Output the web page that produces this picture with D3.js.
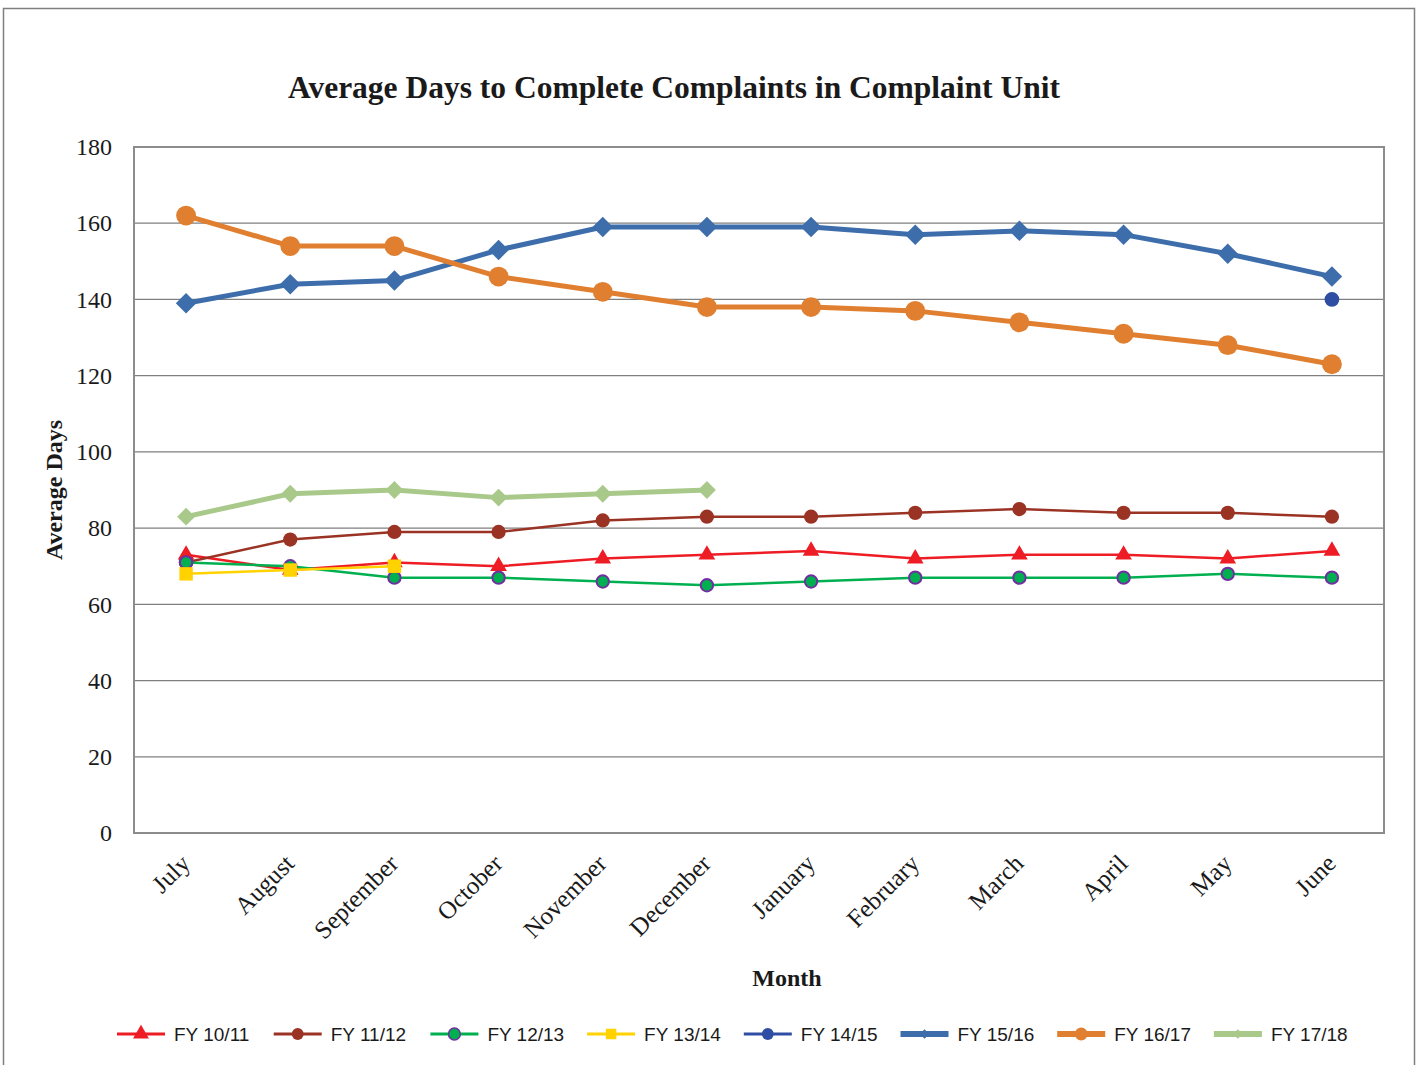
<!DOCTYPE html>
<html><head><meta charset="utf-8">
<script src="https://cdn.jsdelivr.net/npm/d3@7"></script>
<style>body{margin:0;background:#fff}</style>
</head><body>
<svg id="c" width="1417" height="1065"></svg>
<script>
const months = ["July","August","September","October","November","December","January","February","March","April","May","June"];
const yTicks = [0,20,40,60,80,100,120,140,160,180];
const fy1011 = [73,69,71,70,72,73,74,72,73,73,72,74];
const fy1112 = [71,77,79,79,82,83,83,84,85,84,84,83];
const fy1213 = [71,70,67,67,66,65,66,67,67,67,68,67];
const fy1314 = [68,69,70,null,null,null,null,null,null,null,null,null];
const fy1415 = [71,null,null,null,null,null,null,null,null,null,null,140];
const fy1516 = [139,144,145,153,159,159,159,157,158,157,152,146];
const fy1617 = [162,154,154,146,142,138,138,137,134,131,128,123];
const fy1718 = [83,89,90,88,89,90,null,null,null,null,null,null];
const seriesNames = ["FY 10/11","FY 11/12","FY 12/13","FY 13/14","FY 14/15","FY 15/16","FY 16/17","FY 17/18"];

const series = [
  {name:seriesNames[0], data:fy1011, color:"#ee1c25", w:2.5, marker:"triangle", ms:120, fill:"#ee1c25", stroke:"none", z:1},
  {name:seriesNames[1], data:fy1112, color:"#9a3324", w:2.5, marker:"circle", ms:160, fill:"#9a3324", stroke:"none", z:2},
  {name:seriesNames[2], data:fy1213, color:"#00b050", w:2.5, marker:"circle", ms:120, fill:"#00b050", stroke:"#7030a0", z:3},
  {name:seriesNames[3], data:fy1314, color:"#ffd200", w:2.5, marker:"square", ms:180, fill:"#ffd200", stroke:"none", z:4},
  {name:seriesNames[4], data:fy1415, color:"#2f4ea3", w:2.5, marker:"circle", ms:170, fill:"#2f4ea3", stroke:"none", z:0},
  {name:seriesNames[5], data:fy1516, color:"#3d6eab", w:5, marker:"diamond", ms:210, fill:"#3d6eab", stroke:"none", z:5},
  {name:seriesNames[6], data:fy1617, color:"#e07f30", w:5, marker:"circle", ms:310, fill:"#e07f30", stroke:"none", z:6},
  {name:seriesNames[7], data:fy1718, color:"#a9c98a", w:5, marker:"diamond", ms:160, fill:"#a9c98a", stroke:"none", z:7}
];
const symMap = {triangle:d3.symbolTriangle, circle:d3.symbolCircle, square:d3.symbolSquare, diamond:d3.symbolSquare};
const rot = m => m==="diamond" ? " rotate(45)" : "";

const svg = d3.select("#c");
const L=134, R=1384, T=147, B=833;

svg.append("rect").attr("x",3.5).attr("y",8.5).attr("width",1411).attr("height",1070)
  .attr("fill","none").attr("stroke","#7f7f7f").attr("stroke-width",1.5);

const x = d3.scalePoint().domain(months).range([L,R]).padding(0.5);
const y = d3.scaleLinear().domain([0,180]).range([B,T]);

svg.append("g").selectAll("line").data(yTicks.filter(d=>d>0&&d<180)).join("line")
  .attr("x1",L).attr("x2",R).attr("y1",d=>y(d)).attr("y2",d=>y(d))
  .attr("stroke","#7f7f7f").attr("stroke-width",1.2);

svg.append("rect").attr("x",L).attr("y",T).attr("width",R-L).attr("height",B-T)
  .attr("fill","none").attr("stroke","#8c8c8c").attr("stroke-width",2);

const yAxis = d3.axisLeft(y).tickValues(yTicks).tickSize(0).tickPadding(22);
const gy = svg.append("g").attr("transform",`translate(${L},0)`).call(yAxis);
gy.select(".domain").remove();
gy.selectAll("text").attr("font-family","Liberation Serif").attr("font-size",24).attr("fill","#1a1a1a");

const xAxis = d3.axisBottom(x).tickSize(0).tickPadding(0);
const gx = svg.append("g").attr("transform",`translate(0,${B})`).call(xAxis);
gx.select(".domain").remove();
gx.selectAll("text").attr("font-family","Liberation Serif").attr("font-size",25).attr("fill","#1a1a1a")
  .attr("text-anchor","end").attr("dy",0)
  .attr("transform","translate(5,32) rotate(-45)");

svg.append("text").attr("x",674).attr("y",98).attr("text-anchor","middle")
  .attr("font-family","Liberation Serif").attr("font-weight","bold").attr("font-size",31.5)
  .attr("fill","#1a1a1a").text("Average Days to Complete Complaints in Complaint Unit");
svg.append("text").attr("x",787).attr("y",986).attr("text-anchor","middle")
  .attr("font-family","Liberation Serif").attr("font-weight","bold").attr("font-size",24)
  .attr("fill","#1a1a1a").text("Month");
svg.append("text").attr("transform","translate(62,490) rotate(-90)").attr("text-anchor","middle")
  .attr("font-family","Liberation Serif").attr("font-weight","bold").attr("font-size",24)
  .attr("fill","#1a1a1a").text("Average Days");

const order = series.slice().sort((a,b)=>a.z-b.z);
order.forEach(s=>{
  const pts = s.data.map((v,i)=>({m:months[i],v}));
  const line = d3.line().defined(d=>d.v!=null).x(d=>x(d.m)).y(d=>y(d.v));
  svg.append("path").datum(pts).attr("d",line).attr("fill","none")
    .attr("stroke",s.color).attr("stroke-width",s.w).attr("stroke-linejoin","round");
  svg.append("g").selectAll("path").data(pts.filter(d=>d.v!=null)).join("path")
    .attr("d",d3.symbol().type(symMap[s.marker]).size(s.ms))
    .attr("transform",d=>`translate(${x(d.m)},${y(d.v)})${rot(s.marker)}`)
    .attr("fill",s.fill).attr("stroke",s.stroke).attr("stroke-width",s.stroke==="none"?0:2);
});

const lg = svg.append("g");
series.forEach((s,i)=>{
  const lx = 117 + i*156.7, ly = 1034;
  lg.append("line").attr("x1",lx).attr("x2",lx+48).attr("y1",ly).attr("y2",ly)
    .attr("stroke",s.color).attr("stroke-width",s.w>3?6:3);
  const msz = s.marker==="diamond" ? 45 : (s.w>3?130:110);
  lg.append("path").attr("d",d3.symbol().type(symMap[s.marker]).size(msz))
    .attr("transform",`translate(${lx+24},${ly})${rot(s.marker)}`)
    .attr("fill",s.fill).attr("stroke",s.stroke).attr("stroke-width",s.stroke==="none"?0:1.5);
  lg.append("text").attr("x",lx+57).attr("y",ly+7).attr("font-family","Liberation Sans")
    .attr("font-size",19).attr("fill","#1a1a1a").text(s.name);
});
</script>
</body></html>
